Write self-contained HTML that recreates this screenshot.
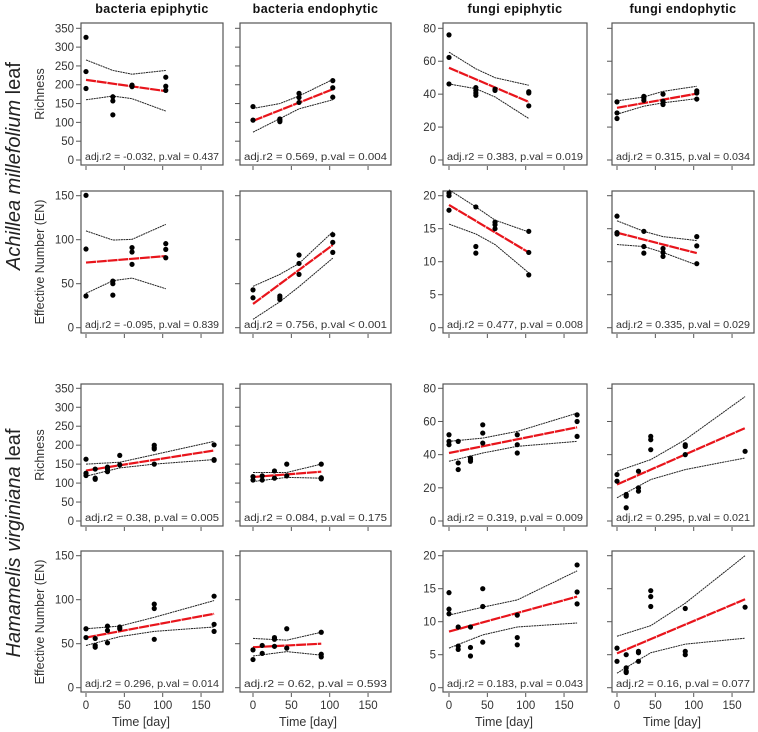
<!DOCTYPE html>
<html><head><meta charset="utf-8"><style>
body{margin:0;background:#fff}
svg{display:block;font-family:"Liberation Sans",sans-serif}
</style></head><body>
<svg id="chart" width="758" height="732" viewBox="0 0 758 732" xmlns="http://www.w3.org/2000/svg"></svg>
<script>
// ---- data ----
const daysA = [0, 35, 60, 104];
const daysH = [0, 12, 28, 44, 89, 167];
const ciDaysH = [0, 44, 89, 167];
const ciDaysH2 = [0, 44, 89];
const colTitles = ["bacteria  epiphytic", "bacteria  endophytic", "fungi  epiphytic", "fungi  endophytic"];
const xTicks = [0, 50, 100, 150];
const yTicksBactRich = [0, 50, 100, 150, 200, 250, 300, 350];
const yTicksBactEN = [0, 50, 100, 150];
const yTicksFungRich = [0, 20, 40, 60, 80];
const yTicksFungEN = [0, 5, 10, 15, 20];

// Achillea richness
const a1Pts = [[326,235,190],[168,157,120],[199,195],[220,196,185]];
const a1Fit = [213,183]; const a1Up = [266,238,228,238]; const a1Lo = [160,170,163,130];
const a2Pts = [[142,106],[109,106,102],[177,166,153],[211,192,167]];
const a2Fit = [104,188]; const a2Up = [137,150,170,214]; const a2Lo = [74,110,136,160];
const a3Pts = [[76,62.3,46.2],[44,42.3,40.7,39.3],[43,42.3],[41.5,40.7,32.9]];
const a3Fit = [56,35.3]; const a3Up = [65.5,55.4,50,45.4]; const a3Lo = [46.2,43.3,38.3,25.2];
const a4Pts = [[35.3,28.6,25.2],[38.7,37.7,36.3],[40,35.7,33.7],[42,40.7,37]];
const a4Fit = [31.7,40.3]; const a4Up = [35.9,38.3,41.7,44.8]; const a4Lo = [27.8,32.7,34.7,37.3];
// Achillea EN
const a5Pts = [[150.4,89.4,36],[53,50,37],[91,86,72],[95.5,89,79.5]];
const a5Fit = [74,81.4]; const a5Up = [110,99.6,100.4,117.4]; const a5Lo = [39,53.4,56.4,44.3];
const a6Pts = [[43,34],[36,34,32],[82.6,73,60.6],[105.7,97,85.6]];
const a6Fit = [27,94]; const a6Up = [47,60.6,73,109]; const a6Lo = [9.5,29.5,46.6,79];
const a7Pts = [[20.4,20,17.8],[18.3,12.3,11.3],[16,15.6,15],[14.6,11.4,8]];
const a7Fit = [18.6,11.4]; const a7Up = [20.9,18.3,16.3,14.5]; const a7Lo = [15.7,14.2,12.6,8.3];
const a8Pts = [[16.9,14.4,14.2],[14.6,12.3,11.3],[12,11.4,10.8],[13.8,12.4,9.7]];
const a8Fit = [14.4,11.3]; const a8Up = [16.2,14.6,13.8,13.2]; const a8Lo = [12.6,12.3,11.4,9.5];
// Hamamelis richness
const h1Pts = [[163,126,120],[137,113,110],[142,137,130],[173,148],[200,194,190,150],[201,162,160]];
const h1Fit = [133,186]; const h1Up = [150,155,175,210]; const h1Lo = [118,140,150,162];
const h2Pts = [[117,108],[119,108],[132,113],[150,119],[150,114,111]];
const h2Fit = [116,130]; const h2Up = [128,128,150]; const h2Lo = [104,115,113];
const h3Pts = [[52,48,46],[48,35,31],[38,37,36],[58,53,47],[52,46,41],[64,60,51]];
const h3Fit = [41,56.5]; const h3Up = [48,50,54,65]; const h3Lo = [36,41,45,48];
const h4Pts = [[28,24],[16,15,8],[30,20,18],[51,49,43],[46,45,40],[42]];
const h4Fit = [22,56]; const h4Up = [30,37,49,75]; const h4Lo = [14,25,31,38];
// Hamamelis EN
const h5Pts = [[67,57],[56,48,46],[70,65,51],[69,67],[95,90,55],[104,72,64]];
const h5Fit = [57,84]; const h5Up = [67,70,80,99]; const h5Lo = [48,58,64,69];
const h6Pts = [[43,32],[48,39],[57,55,47],[67,45],[63,38,35]];
const h6Fit = [46,50]; const h6Up = [56,54,63]; const h6Lo = [36,41,37];
const h7Pts = [[14.4,11.9,11.2],[9.2,6.3,5.8],[9.2,6.1,4.8],[15,12.3,6.9],[11,7.6,6.5],[18.6,14.5,12.7]];
const h7Fit = [8.5,13.8]; const h7Up = [11,12.2,13.3,17.7]; const h7Lo = [6,8,9.2,9.8];
const h8Pts = [[6,4],[5,3,2.5,2.3],[5.5,5.3,4],[14.7,13.8,12.3],[12,5.5,5],[12.2]];
const h8Fit = [5.2,13.4]; const h8Up = [7.8,9.4,12.8,20]; const h8Lo = [2.2,5.3,6.6,7.5];
const statLabels = [
 "adj.r2  =  -0.032,  p.val  =  0.437","adj.r2  =  0.569,  p.val  =  0.004","adj.r2  =  0.383,  p.val  =  0.019","adj.r2  =  0.315,  p.val  =  0.034",
 "adj.r2  =  -0.095,  p.val  =  0.839","adj.r2  =  0.756,  p.val  <  0.001","adj.r2  =  0.477,  p.val  =  0.008","adj.r2  =  0.335,  p.val  =  0.029",
 "adj.r2  =  0.38,  p.val  =  0.005","adj.r2  =  0.084,  p.val  =  0.175","adj.r2  =  0.319,  p.val  =  0.009","adj.r2  =  0.295,  p.val  =  0.021",
 "adj.r2  =  0.296,  p.val  =  0.014","adj.r2  =  0.62,  p.val  =  0.593","adj.r2  =  0.183,  p.val  =  0.043","adj.r2  =  0.16,  p.val  =  0.077"];

// ---- layout ----
const cols = [{l:81,r:223,x0:86},{l:240,r:391,x0:253},{l:443,r:587,x0:449},{l:612,r:754,x0:617}];
const rows = [{t:23,b:165,y0:160,yT:28.3},{t:191,b:333,y0:327.7,yT:195.7},{t:384,b:526,y0:521,yT:388.3},{t:551,b:692,y0:687.7,yT:555.7}];
const PXD = 0.767;
const panels = [
 [a1Pts,a1Fit,a1Up,a1Lo,daysA,daysA,yTicksBactRich],[a2Pts,a2Fit,a2Up,a2Lo,daysA,daysA,yTicksBactRich],[a3Pts,a3Fit,a3Up,a3Lo,daysA,daysA,yTicksFungRich],[a4Pts,a4Fit,a4Up,a4Lo,daysA,daysA,yTicksFungRich],
 [a5Pts,a5Fit,a5Up,a5Lo,daysA,daysA,yTicksBactEN],[a6Pts,a6Fit,a6Up,a6Lo,daysA,daysA,yTicksBactEN],[a7Pts,a7Fit,a7Up,a7Lo,daysA,daysA,yTicksFungEN],[a8Pts,a8Fit,a8Up,a8Lo,daysA,daysA,yTicksFungEN],
 [h1Pts,h1Fit,h1Up,h1Lo,daysH,ciDaysH,yTicksBactRich],[h2Pts,h2Fit,h2Up,h2Lo,daysH.slice(0,5),ciDaysH2,yTicksBactRich],[h3Pts,h3Fit,h3Up,h3Lo,daysH,ciDaysH,yTicksFungRich],[h4Pts,h4Fit,h4Up,h4Lo,daysH,ciDaysH,yTicksFungRich],
 [h5Pts,h5Fit,h5Up,h5Lo,daysH,ciDaysH,yTicksBactEN],[h6Pts,h6Fit,h6Up,h6Lo,daysH.slice(0,5),ciDaysH2,yTicksBactEN],[h7Pts,h7Fit,h7Up,h7Lo,daysH,ciDaysH,yTicksFungEN],[h8Pts,h8Fit,h8Up,h8Lo,daysH,ciDaysH,yTicksFungEN]];

const svg = document.getElementById('chart');
const NS = 'http://www.w3.org/2000/svg';
function mk(tag, attrs, parent, text){
  const e = document.createElementNS(NS, tag);
  for (const k in attrs) e.setAttribute(k, attrs[k]);
  if (text !== undefined) e.textContent = text;
  (parent || svg).appendChild(e);
  return e;
}

colTitles.forEach((t,i)=>{
  const c = cols[i];
  const el = mk('text',{x:(c.l+c.r)/2,y:13,'text-anchor':'middle','font-size':12.5,'font-weight':'bold',fill:'#111','letter-spacing':0.4,'xml:space':'preserve'},svg,t);
  
  
});

panels.forEach((p,idx)=>{
  const ri = Math.floor(idx/4), ci = idx%4;
  const R = rows[ri], C = cols[ci];
  const [pts, fit, up, lo, days, ciDays, yTicks] = p;
  const yMax = yTicks[yTicks.length-1];
  const xs = d => C.x0 + d*PXD;
  const ys = v => R.y0 - (v/yMax)*(R.y0 - R.yT);
  const g = mk('g',{});
  
  
  const frame = mk('rect',{x:C.l,y:R.t,width:C.r-C.l,height:R.b-R.t,fill:'none',stroke:'#555','stroke-width':1.2},g);
  
  
  yTicks.forEach(v=>{
    const y = ys(v);
    const tk = mk('line',{x1:C.l-5,x2:C.l,y1:y,y2:y,stroke:'#555'},g);
    
    
    if (ci===0 || ci===2){
      const tl = mk('text',{x:C.l-7,y:y+4,'text-anchor':'end','font-size':11.5,fill:'#333'},g,String(v));
      
      
    }
  });
  xTicks.forEach(d=>{
    const x = xs(d);
    const tk = mk('line',{x1:x,x2:x,y1:R.b+1,y2:R.b+5,stroke:'#555'},g);
    
    
    if (ri===3){
      const tl = mk('text',{x:x,y:R.b+17,'text-anchor':'middle','font-size':11.5,fill:'#333'},g,String(d));
      
      
    }
  });
  [up, lo].forEach((arr,k)=>{
    const pl = mk('polyline',{points:arr.map((v,i)=>xs(ciDays[i])+','+ys(v)).join(' '),fill:'none',stroke:'#222','stroke-width':1,'stroke-dasharray':'2,0.6'},g);
    
    
  });
  const fl = mk('line',{x1:xs(days[0]),y1:ys(fit[0]),x2:xs(days[days.length-1]),y2:ys(fit[1]),stroke:'#e8141b','stroke-width':2.2,'stroke-dasharray':'10,0.8'},g);
  
  
  pts.forEach((grp,i)=>{
    grp.forEach(v=>{
      const c = mk('circle',{cx:xs(days[i]),cy:ys(v),r:2.6,fill:'#000'},g);
      
      
    });
  });
  const st = mk('text',{x:C.l+4,y:R.b-5,'font-size':10,fill:'#333',textLength:C.r-C.l-8,lengthAdjust:'spacingAndGlyphs','xml:space':'preserve'},g,statLabels[idx]);
  
  
});

cols.forEach(c=>{
  const t = mk('text',{x:c.x0+55,y:726,'text-anchor':'middle','font-size':12.5,fill:'#333','xml:space':'preserve'},svg,'Time  [day]');
  
  
});
const yTitles = [['Richness',94],['Effective  Number  (EN)',262],['Richness',455],['Effective  Number  (EN)',622]];
yTitles.forEach(([t,cy])=>{
  const e = mk('text',{x:0,y:0,transform:'translate(44,'+cy+') rotate(-90)','text-anchor':'middle','font-size':12.5,fill:'#333','xml:space':'preserve'},svg,t);
  
  
});
const species = [['Achillea millefolium',166],['Hamamelis virginiana',543]];
species.forEach(([s,cy])=>{
  const e = mk('text',{x:0,y:0,transform:'translate(20,'+cy+') rotate(-90)','text-anchor':'middle','font-size':20,fill:'#222'},svg);
  mk('tspan',{'font-style':'italic'},e,s);
  mk('tspan',{},e,' leaf');
  
  
});
</script>
</body></html>
